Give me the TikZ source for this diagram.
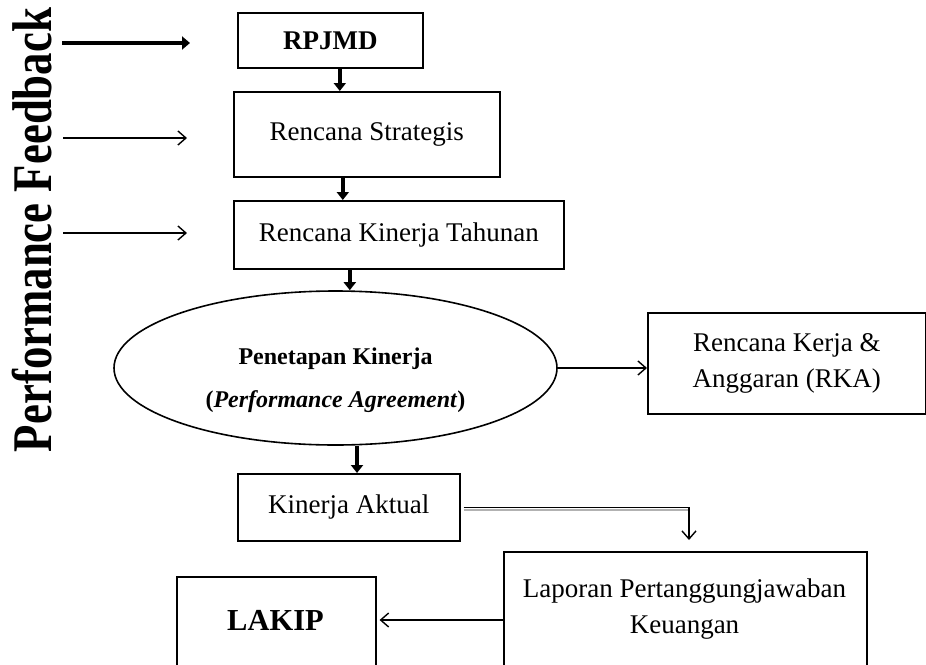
\documentclass[tikz,border=0pt]{standalone}
\usepackage{fontspec}
\usepackage{graphicx}
\setmainfont{Liberation Serif}
\usetikzlibrary{arrows.meta,shapes.geometric}
\begin{document}
\begin{tikzpicture}[x=1pt,y=-1pt,
  box/.style={draw,line width=1.6pt,rectangle,inner sep=0pt,anchor=north west,align=center},
  thk/.style={line width=3.8pt,-{Triangle[width=12pt,length=8pt]}},
  thn/.style={line width=1.4pt,-{Straight Barb[length=8pt,width=14pt,line width=1.4pt]}},
  txt/.style={font=\fontsize{27}{36}\selectfont},
  bold/.style={font=\fontsize{27}{36}\selectfont\bfseries}
]
\useasboundingbox (0,0) rectangle (926,664);
\clip (0,0) rectangle (926,664);

% feedback label
\node[rotate=90,anchor=base,inner sep=0pt,font=\fontsize{56}{60}\selectfont\bfseries] (FB) at (51,230) {\scalebox{0.8}[1]{Performance Feedback}};

% boxes
\node[box,bold,minimum width=185pt,minimum height=55pt] (RP) at (237,12) {RPJMD};
\node[box,txt,minimum width=266pt,minimum height=85pt] (RS) at (233,91) {Rencana Strategis};
\node[box,txt,minimum width=330pt,minimum height=68pt] (RKT) at (233,200) {Rencana Kinerja Tahunan};
\node[draw,line width=1.6pt,ellipse,minimum width=443pt,minimum height=154pt,inner sep=0pt] (PK) at (335.5,368) {};
\node[align=center,inner sep=0pt,font=\fontsize{24}{43}\selectfont\bfseries] (PKt) at (335.5,380) {Penetapan Kinerja\\(\textit{Performance Agreement})};
\node[box,txt,minimum width=278pt,minimum height=101pt] (RKA) at (647,312) {Rencana Kerja \&\\Anggaran (RKA)};
\node[box,txt,minimum width=222pt,minimum height=67pt] (KA) at (237,473) {Kinerja Aktual};
\node[box,minimum width=363pt,minimum height=150pt] (LP) at (503,551) {};
\node[txt,align=center,inner sep=0pt] (LPt) at (684.5,609) {Laporan Pertanggungjawaban\\Keuangan};
\node[box,minimum width=199pt,minimum height=150pt] (LAK) at (176,576) {};
\node[inner sep=0pt,font=\fontsize{30.5}{36}\selectfont\bfseries] (LAKt) at (275.5,620) {LAKIP};

% feedback arrows
\coordinate (f1s) at (62,43);  \coordinate (f1e) at (190,43);
\coordinate (f2s) at (63,138); \coordinate (f2e) at (187,138);
\coordinate (f3s) at (63,233); \coordinate (f3e) at (187,233);
\draw[line width=4.6pt,-{Triangle[width=13pt,length=8pt]}] (f1s) -- (f1e);
\draw[thn] (f2s) -- (f2e);
\draw[thn] (f3s) -- (f3e);

% vertical flow
\draw[thk] ([xshift=9.5pt]RP.south) -- ([xshift=9.5pt]RP.south |- RS.north);
\draw[thk] ([xshift=-24pt]RS.south) -- ([xshift=-24pt]RS.south |- RKT.north);
\draw[thk] ([xshift=-49pt]RKT.south) -- ([xshift=-49pt]RKT.south |- PK.north);
\draw[thk] ([xshift=21.5pt]PK.south) -- ([xshift=21.5pt]PK.south |- KA.north);

% side flows
\draw[thn] (PK.east) -- (PK.east -| RKA.west);
\coordinate (kaend) at (689,540);
\draw[black!30,line width=1.4pt] ([xshift=3pt,yshift=-2.5pt]KA.east) -- ([yshift=-2.5pt]KA.east -| kaend);
\draw[thn] ([xshift=3pt]KA.east) -| (kaend);
\draw[thn] (LP.west |- LAKt) -- ([xshift=3pt]LAK.east |- LAKt);
\end{tikzpicture}
\end{document}
